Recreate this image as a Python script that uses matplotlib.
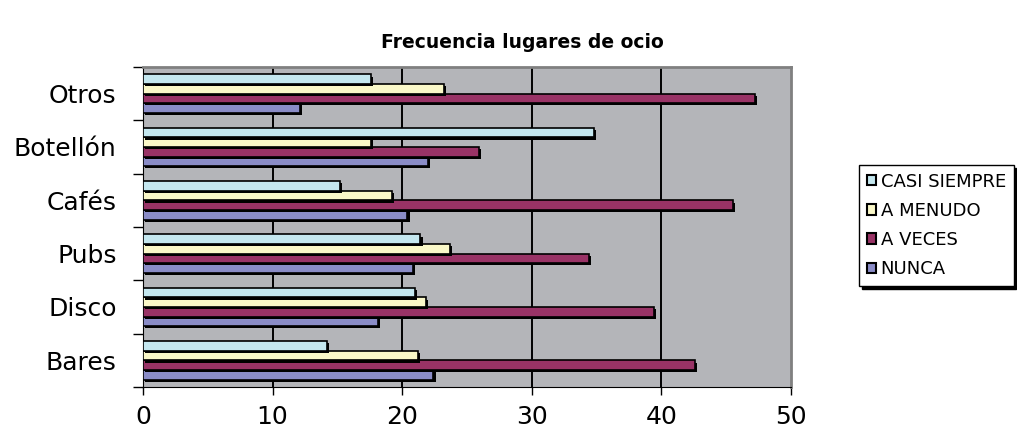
import matplotlib
matplotlib.use('Agg')
import matplotlib.pyplot as plt
import matplotlib.patheffects as pe
from matplotlib.patches import Patch
import numpy as np

# datos
categorias = ['Bares', 'Disco', 'Pubs', 'Cafés', 'Botellón', 'Otros']
casi_siempre = [14.2, 21.0, 21.4, 15.2, 34.8, 17.6]
a_menudo = [21.2, 21.8, 23.7, 19.2, 17.6, 23.2]
a_veces = [42.6, 39.4, 34.4, 45.5, 25.9, 47.2]
nunca = [22.4, 18.1, 20.8, 20.4, 22.0, 12.1]
series = ['CASI SIEMPRE', 'A MENUDO', 'A VECES', 'NUNCA']
x_ticks = [0, 10, 20, 30, 40, 50]

colores = ['#C4E7EF', '#FAF8C8', '#993366', '#8A8CC7']
valores = [casi_siempre, a_menudo, a_veces, nunca]

plt.rcParams['font.family'] = ['DejaVu Sans']

fig = plt.figure(figsize=(10.17, 4.30), dpi=100)
ax = fig.add_axes([143/1017, 1-387/430, (791-143)/1017, (387-67)/430])
ax.set_facecolor('#B4B5B9')

y = np.arange(len(categorias))
h = 0.18
offsets = [1.5*h, 0.5*h, -0.5*h, -1.5*h]
sombra = [pe.SimplePatchShadow(offset=(1.6, -1.6), shadow_rgbFace='black', alpha=1.0), pe.Normal()]

# dibujar de abajo hacia arriba para que la sombra del superior quede encima
for i in [3, 2, 1, 0]:
    bars = ax.barh(y + offsets[i], valores[i], height=h, color=colores[i],
                   edgecolor='black', linewidth=1.2, zorder=3)
    for b in bars:
        b.set_path_effects(sombra)

ax.set_xlim(0, 50)
ax.set_ylim(-0.5, len(categorias) - 0.5)
ax.set_xticks(x_ticks)
ax.set_xticklabels([str(t) for t in x_ticks], fontsize=18)
for gx in x_ticks[1:-1]:
    ax.axvline(gx, color='black', linewidth=1.4, zorder=1)

ax.set_yticks(y)
ax.set_yticklabels(categorias, fontsize=18)
ax.set_yticks(np.arange(-0.5, len(categorias)), minor=True)
ax.tick_params(axis='y', which='major', length=0, pad=19)
ax.tick_params(axis='y', which='minor', length=7, width=1, direction='out', color='black')
ax.tick_params(axis='x', length=6, width=1, direction='out', pad=7)

ax.spines['left'].set_color('black')
ax.spines['bottom'].set_color('black')
ax.spines['top'].set_color('#808080')
ax.spines['right'].set_color('#808080')
ax.spines['top'].set_linewidth(2)
ax.spines['right'].set_linewidth(2)

fig.text(0.514, 1-42/430, 'Frecuencia lugares de ocio', fontsize=13.5,
         fontweight='bold', ha='center', va='center')

handles = [Patch(facecolor=c, edgecolor='black', linewidth=1.5) for c in colores]
leg = fig.legend(handles, series, loc='upper left',
                 bbox_to_anchor=(859/1017, 1-165/430), borderaxespad=0,
                 fontsize=13, frameon=True, fancybox=False,
                 shadow={'color': 'black', 'alpha': 1.0},
                 handlelength=0.5, handleheight=0.5, handletextpad=0.28,
                 labelspacing=0.62, borderpad=0.42)
leg.get_frame().set_edgecolor('black')
leg.get_frame().set_linewidth(1.0)

fig.savefig('out.png', dpi=100, facecolor='white')
